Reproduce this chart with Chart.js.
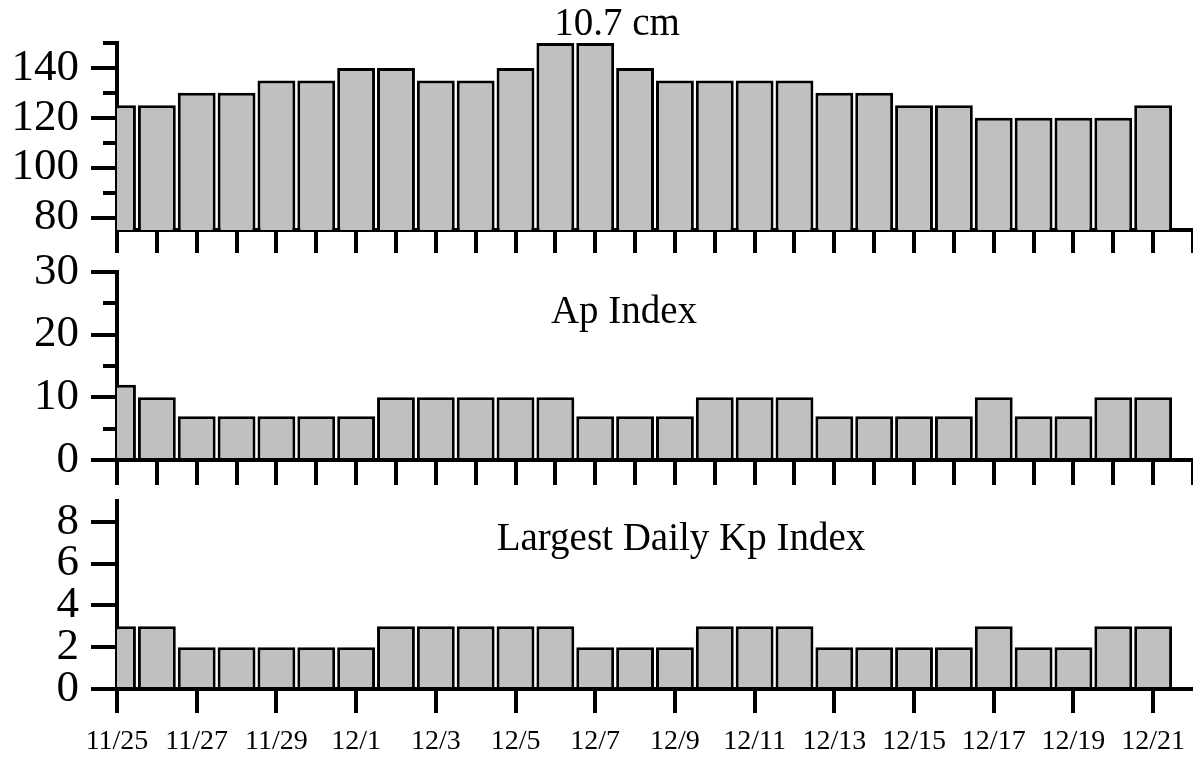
<!DOCTYPE html>
<html>
<head>
<meta charset="utf-8">
<script src="https://cdn.jsdelivr.net/npm/chart.js@4/dist/chart.umd.min.js"></script>
<style>
  html, body { margin: 0; padding: 0; background: #fff; }
  #wrap { position: relative; width: 1193px; height: 758px; }
  canvas { position: absolute; left: 0; }
</style>
</head>
<body>
<div id="wrap">
  <canvas id="c1" width="1193" height="258" style="top:0px"></canvas>
  <canvas id="c2" width="1193" height="260" style="top:230px"></canvas>
  <canvas id="c3" width="1193" height="288" style="top:470px"></canvas>
</div>
<script>
// days shown, plus one empty slot so the axis runs on past 12/21
const days = ['11/25','11/26','11/27','11/28','11/29','11/30','12/1','12/2','12/3','12/4',
  '12/5','12/6','12/7','12/8','12/9','12/10','12/11','12/12','12/13','12/14',
  '12/15','12/16','12/17','12/18','12/19','12/20','12/21','12/22'];

const flux = [125,125,130,130,135,135,140,140,135,135,140,150,150,140,135,135,135,135,130,130,125,125,120,120,120,120,125];
const apIndex = [12,10,7,7,7,7,7,10,10,10,10,10,7,7,7,10,10,10,7,7,7,7,10,7,7,10,10];
const kpMax = [3,3,2,2,2,2,2,3,3,3,3,3,2,2,2,3,3,3,2,2,2,2,3,2,2,3,3];

const fluxMajor = [80,100,120,140], fluxMinor = [90,110,130,150];
const apMajor = [0,10,20,30], apMinor = [5,15,25];
const kpMajor = [0,2,4,6,8], kpMinor = [];

const FONT = '"Liberation Serif", "Times New Roman", serif';

// minor y ticks + panel caption
const decor = {
  id: 'decor',
  afterDraw(chart, args, opts) {
    const ctx = chart.ctx, ys = chart.scales.y, left = chart.chartArea.left;
    ctx.save();
    ctx.strokeStyle = '#000';
    ctx.lineWidth = 4;
    (opts.minor || []).forEach(v => {
      const py = Math.round(ys.getPixelForValue(v));
      ctx.beginPath();
      ctx.moveTo(left - 14, py);
      ctx.lineTo(left, py);
      ctx.stroke();
    });
    ctx.fillStyle = '#000';
    ctx.font = '39px ' + FONT;
    ctx.textAlign = 'center';
    ctx.textBaseline = 'alphabetic';
    ctx.fillText(opts.text, opts.x, opts.y);
    ctx.restore();
  }
};

function panel(id, values, yMin, yMax, major, minor, cfg) {
  const bottom = cfg.labels;
  new Chart(document.getElementById(id), {
    type: 'bar',
    data: {
      labels: days,
      datasets: [{
        data: values,
        backgroundColor: '#c0c0c0',
        borderColor: '#000',
        borderWidth: 3,
        barPercentage: 0.95,
        categoryPercentage: 1,
        clip: 0
      }]
    },
    options: {
      responsive: false,
      animation: false,
      layout: { padding: { top: cfg.top, left: 0, right: 0, bottom: 0 } },
      plugins: {
        legend: { display: false },
        tooltip: { enabled: false },
        decor: { minor: minor, text: cfg.text, x: cfg.tx, y: cfg.ty }
      },
      scales: {
        x: {
          type: 'category',
          offset: false,
          z: 1,
          grid: {
            offset: false,
            drawOnChartArea: false,
            drawTicks: true,
            tickLength: cfg.tickLen,
            tickWidth: 4,
            lineWidth: 4,
            color: '#000',
            tickColor: bottom ? (c => c.index % 2 === 0 ? '#000' : 'rgba(0,0,0,0)') : '#000'
          },
          border: { display: true, color: '#000', width: 4 },
          ticks: {
            display: bottom,
            autoSkip: false,
            maxRotation: 0,
            padding: 12,
            color: '#000',
            font: { family: FONT, size: 28 },
            callback: function (val, i) { return i % 2 === 0 ? this.getLabelForValue(val) : ''; }
          },
          afterFit: s => { s.height = cfg.xHeight; s.paddingLeft = 0; s.paddingRight = 0; }
        },
        y: {
          min: yMin,
          max: yMax,
          z: 1,
          grid: {
            drawOnChartArea: false,
            drawTicks: true,
            tickLength: 26,
            tickWidth: 4,
            lineWidth: 4,
            color: '#000',
            tickColor: '#000'
          },
          border: { display: true, color: '#000', width: 4 },
          ticks: {
            autoSkip: false,
            padding: 12,
            color: '#000',
            font: { family: FONT, size: 45 }
          },
          afterBuildTicks: s => { s.ticks = major.map(v => ({ value: v })); },
          afterFit: s => { s.width = 117; s.paddingTop = 0; s.paddingBottom = 0; }
        }
      }
    },
    plugins: [decor]
  });
}

panel('c1', flux, 75, 150, fluxMajor, fluxMinor,
  { top: 43, xHeight: 28, tickLen: 23, labels: false, text: '10.7 cm', tx: 617, ty: 35 });
panel('c2', apIndex, 0, 30, apMajor, apMinor,
  { top: 42, xHeight: 30, tickLen: 25, labels: false, text: 'Ap Index', tx: 624, ty: 93 });
panel('c3', kpMax, 0, 9, kpMajor, kpMinor,
  { top: 31, xHeight: 69, tickLen: 24, labels: true, text: 'Largest Daily Kp Index', tx: 681, ty: 80 });
</script>
</body>
</html>
